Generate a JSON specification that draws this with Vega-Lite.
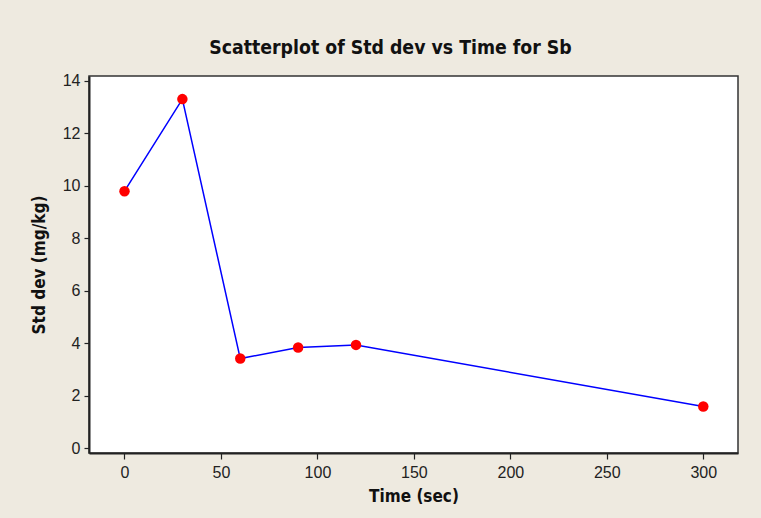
{
  "$schema": "https://vega.github.io/schema/vega-lite/v6.json",
  "width": 649,
  "height": 377,
  "autosize": {"type": "none"},
  "padding": {"left": 89, "top": 76, "right": 23, "bottom": 65},
  "background": "#EEEAE0",
  "title": {
    "text": "Scatterplot of Std dev vs Time for Sb",
    "font": "DejaVu Sans Condensed, DejaVu Sans",
    "fontSize": 19.3,
    "fontWeight": "bold",
    "color": "#111111",
    "anchor": "middle",
    "frame": "group",
    "dx": -23,
    "offset": 14
  },
  "data": {
    "values": [
      {"time": 0, "sd": 9.79},
      {"time": 30, "sd": 13.3},
      {"time": 60, "sd": 3.41},
      {"time": 90, "sd": 3.83},
      {"time": 120, "sd": 3.93},
      {"time": 300, "sd": 1.58}
    ]
  },
  "encoding": {
    "x": {
      "field": "time",
      "type": "quantitative",
      "title": "Time (sec)",
      "scale": {"domain": [-18.4, 318], "nice": false, "zero": false},
      "axis": {"values": [0, 50, 100, 150, 200, 250, 300]}
    },
    "y": {
      "field": "sd",
      "type": "quantitative",
      "title": "Std dev (mg/kg)",
      "scale": {"domain": [-0.19, 14.18], "nice": false, "zero": false},
      "axis": {"values": [0, 2, 4, 6, 8, 10, 12, 14]}
    }
  },
  "layer": [
    {
      "mark": {"type": "line", "color": "#0000FF", "strokeWidth": 1.5}
    },
    {
      "mark": {"type": "circle", "color": "#FF0000", "opacity": 1, "size": 110}
    }
  ],
  "config": {
    "view": {"fill": "white", "stroke": "#333333", "strokeWidth": 1.5},
    "axis": {
      "grid": false,
      "domain": true,
      "domainColor": "#222222",
      "domainWidth": 2,
      "tickColor": "#222222",
      "tickWidth": 1.2,
      "tickSize": 6,
      "labelFont": "Liberation Sans",
      "labelFontSize": 16,
      "labelColor": "#222222",
      "labelPadding": 5,
      "titleFont": "DejaVu Sans Condensed, DejaVu Sans",
      "titleFontSize": 17,
      "titleFontWeight": "bold",
      "titleColor": "#111111"
    },
    "axisX": {"titlePadding": 8},
    "axisY": {"titlePadding": 14, "tickSize": 5, "labelPadding": 4}
  }
}
